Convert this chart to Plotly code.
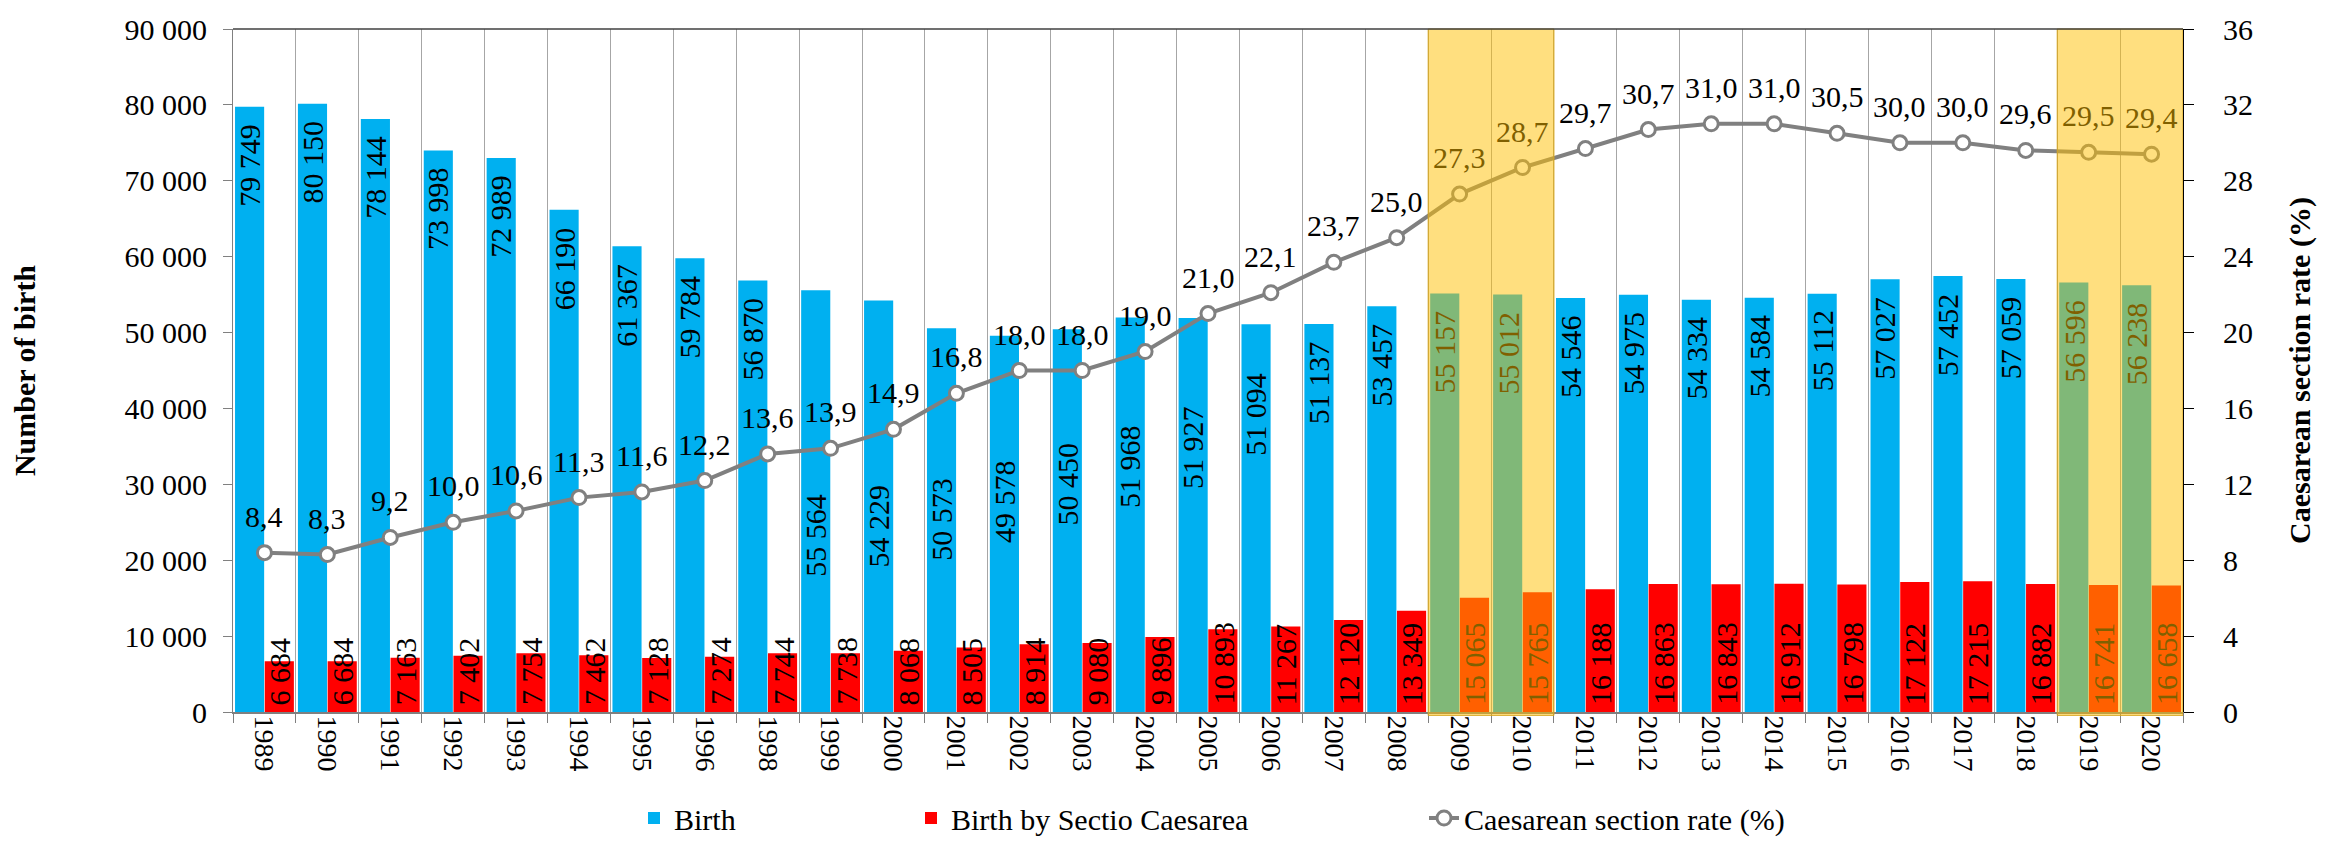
import plotly.graph_objects as go

# ---------------- data ----------------
years = ["1989", "1990", "1991", "1992", "1993", "1994", "1995", "1996", "1998", "1999",
         "2000", "2001", "2002", "2003", "2004", "2005", "2006", "2007", "2008", "2009",
         "2010", "2011", "2012", "2013", "2014", "2015", "2016", "2017", "2018", "2019", "2020"]

births = [79749, 80150, 78144, 73998, 72989, 66190, 61367, 59784, 56870, 55564,
          54229, 50573, 49578, 50450, 51968, 51927, 51094, 51137, 53457, 55157,
          55012, 54546, 54975, 54334, 54584, 55112, 57027, 57452, 57059, 56596, 56238]

caesarean = [6684, 6684, 7163, 7402, 7754, 7462, 7128, 7274, 7744, 7738,
             8068, 8505, 8914, 9080, 9896, 10893, 11267, 12120, 13349, 15065,
             15765, 16188, 16863, 16843, 16912, 16798, 17122, 17215, 16882, 16741, 16658]

cs_rate = [8.4, 8.3, 9.2, 10.0, 10.6, 11.3, 11.6, 12.2, 13.6, 13.9,
           14.9, 16.8, 18.0, 18.0, 19.0, 21.0, 22.1, 23.7, 25.0, 27.3,
           28.7, 29.7, 30.7, 31.0, 31.0, 30.5, 30.0, 30.0, 29.6, 29.5, 29.4]

# highlighted periods (first year, last year)
highlights = [("2009", "2010"), ("2019", "2020")]

# birth labels that were moved down in the original (label centre, in births units)
moved_birth_labels = {"1999": 23300, "2000": 24500, "2001": 25400, "2002": 27700,
                      "2003": 30000, "2004": 32300, "2005": 34800, "2006": 39300}

# ---------------- style ----------------
FONT = "Liberation Serif"
BLUE = "#00B0F0"
RED = "#FF0000"
GREY = "#808080"
OVER_RGB = (255, 192, 0)
OVER_A = 0.5
OVERLAY = f"rgba({OVER_RGB[0]},{OVER_RGB[1]},{OVER_RGB[2]},{OVER_A})"
TINTED_TEXT = "rgb({},{},{})".format(*[int(round(c * OVER_A)) for c in OVER_RGB])
LBL = 30


def fmt_int(v):
    return f"{v:,}".replace(",", " ")


def fmt_dec(v):
    return f"{v:.1f}".replace(".", ",")


hl_set = set()
for a, b in highlights:
    for y in years[years.index(a): years.index(b) + 1]:
        hl_set.add(y)

fig = go.Figure()

fig.add_trace(go.Bar(x=years, y=births, name="Birth", marker_color=BLUE,
                     marker_line_width=0, legend="legend"))
fig.add_trace(go.Bar(x=years, y=caesarean, name="Birth by Sectio Caesarea",
                     marker_color=RED, marker_line_width=0, legend="legend2"))
fig.add_trace(go.Scatter(x=years, y=cs_rate, yaxis="y2", mode="lines+markers",
                         name="Caesarean section rate (%)",
                         line=dict(color=GREY, width=4),
                         marker=dict(symbol="circle", size=14, color="white",
                                     line=dict(color=GREY, width=3)),
                         legend="legend3"))

annotations = []
for i, yr in enumerate(years):
    col = TINTED_TEXT if yr in hl_set else "black"
    f = dict(family=FONT, size=LBL, color=col)
    # birth labels
    if yr in moved_birth_labels:
        annotations.append(dict(x=i, y=moved_birth_labels[yr], xref="x", yref="y",
                                text=fmt_int(births[i]), textangle=-90, showarrow=False,
                                xanchor="center", yanchor="middle", xshift=-15, font=f))
    else:
        annotations.append(dict(x=i, y=births[i], xref="x", yref="y",
                                text=fmt_int(births[i]), textangle=-90, showarrow=False,
                                xanchor="center", yanchor="top", yshift=-15, xshift=-15,
                                font=f))
    # caesarean labels
    annotations.append(dict(x=i, y=0, xref="x", yref="y",
                            text=fmt_int(caesarean[i]), textangle=-90, showarrow=False,
                            xanchor="center", yanchor="bottom", yshift=5, xshift=15,
                            font=f))
    # rate labels
    annotations.append(dict(x=i, y=cs_rate[i], xref="x", yref="y2",
                            text=fmt_dec(cs_rate[i]), showarrow=False,
                            xanchor="center", yanchor="bottom", yshift=18, font=f))

shapes = []
for a, b in highlights:
    shapes.append(dict(type="rect", xref="x", yref="paper",
                       x0=years.index(a) - 0.5, x1=years.index(b) + 0.5,
                       y0=-0.005, y1=1, fillcolor=OVERLAY,
                       line=dict(color="rgba(215,165,30,0.9)", width=1), layer="above"))
shapes.append(dict(type="line", xref="paper", yref="paper", x0=0, x1=1, y0=1, y1=1,
                   line=dict(color="#404040", width=1.5), layer="above"))

legend_common = dict(orientation="h", xref="container", yref="container",
                     yanchor="middle", y=1 - 810 / 845, xanchor="left",
                     font=dict(family=FONT, size=30, color="black"),
                     bgcolor="rgba(0,0,0,0)")

fig.update_layout(
    width=2331, height=845,
    paper_bgcolor="white", plot_bgcolor="white",
    margin=dict(l=225, r=156, t=21, b=141, autoexpand=False),
    barmode="group", bargap=0.055, bargroupgap=0.02,
    separators=", ",
    font=dict(family=FONT, size=30, color="black"),
    showlegend=True,
    legend=dict(legend_common, x=626 / 2331),
    legend2=dict(legend_common, x=903 / 2331),
    legend3=dict(legend_common, x=1416 / 2331),
    xaxis=dict(type="category", range=[-0.5, len(years) - 0.5],
               tickson="boundaries", showgrid=True,
               gridcolor="#A6A6A6", gridwidth=1,
               ticks="outside", ticklen=9, tickcolor=GREY, tickwidth=1,
               showline=True, linecolor=GREY, linewidth=2,
               tickangle=90, tickfont=dict(family=FONT, size=28, color="black"),
               ticklabelstandoff=-4, automargin=False),
    yaxis=dict(range=[0, 90000], dtick=10000, tickformat=",d", showgrid=False,
               zeroline=False, ticks="outside", ticklen=9, tickcolor=GREY,
               showline=True, linecolor=GREY, linewidth=1,
               tickfont=dict(family=FONT, size=30, color="black"),
               ticklabelstandoff=10,
               title=dict(text="<b>Number of birth</b>", standoff=82,
                          font=dict(family=FONT, size=30, color="black")),
               automargin=False),
    yaxis2=dict(range=[0, 36], dtick=4, overlaying="y", side="right", showgrid=False,
                zeroline=False, ticks="outside", ticklen=10, tickcolor="black",
                showline=True, linecolor="black", linewidth=1,
                tickfont=dict(family=FONT, size=30, color="black"),
                ticklabelstandoff=23,
                title=dict(text="<b>Caesarean section rate (%)</b>", standoff=36,
                           font=dict(family=FONT, size=30, color="black")),
                automargin=False),
    annotations=annotations,
    shapes=shapes,
)

fig.write_html("out.html")
